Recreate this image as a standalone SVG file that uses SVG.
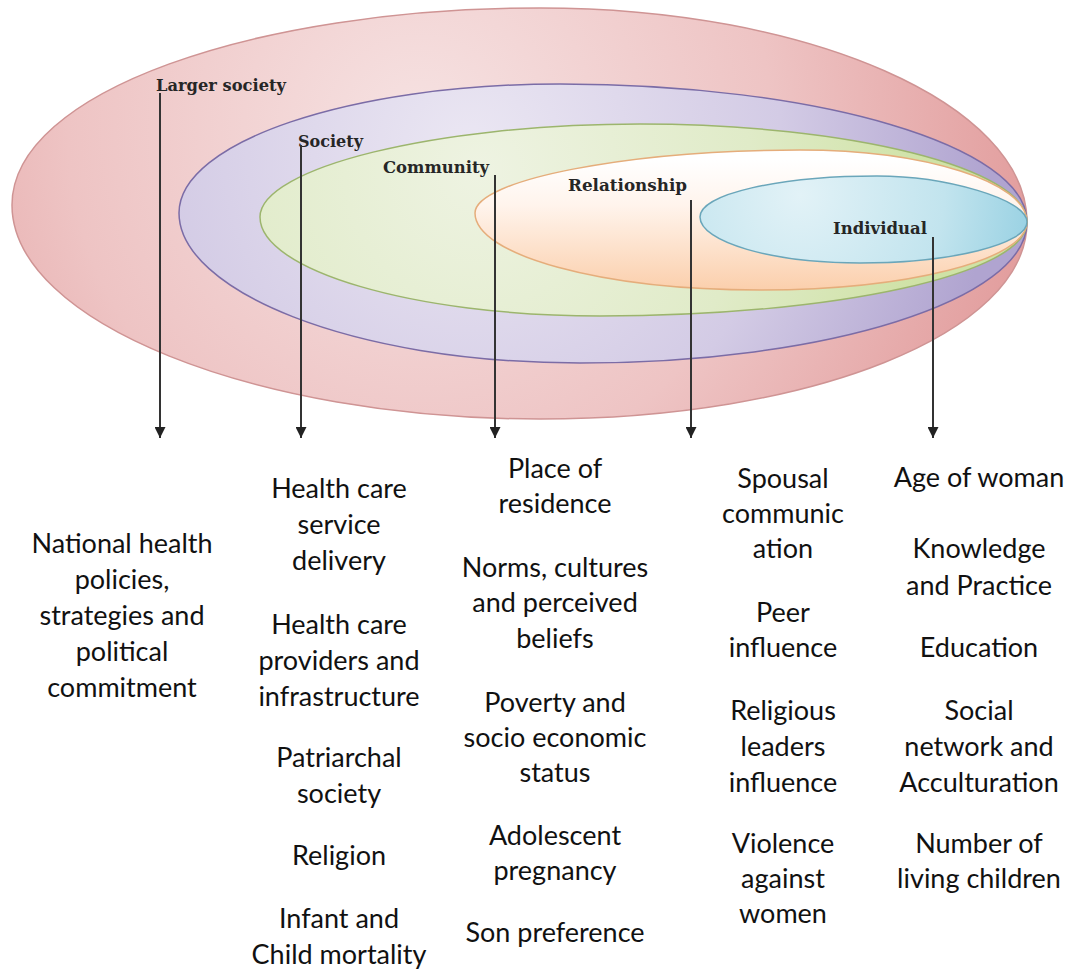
<svg xmlns="http://www.w3.org/2000/svg" width="1069" height="970" viewBox="0 0 1069 970">
  <style>
    .lvl { font-family: "DejaVu Serif", "Liberation Serif", serif; font-weight: bold; font-size: 16px; fill: #262626; }
    .fac { font-family: Lato, "Open Sans", "Liberation Sans", sans-serif; font-size: 27px; fill: #111111; text-anchor: middle; }
    .conn { stroke: #333333; stroke-width: 2; fill: none; marker-end: url(#head); }
  </style>
  <defs>
    <!-- downward arrowhead: drawn pointing along +x, rotated by the line direction -->
    <marker id="head" markerUnits="userSpaceOnUse" markerWidth="11" markerHeight="11" viewBox="0 0 11 11" refX="11" refY="5.5" orient="auto">
      <path d="M0,0 L11,5.5 L0,11 Z" fill="#222222"/>
    </marker>
    <radialGradient id="gRed" gradientUnits="userSpaceOnUse" cx="420" cy="130" r="640">
      <stop offset="0" stop-color="#f6e2e2"/>
      <stop offset="0.55" stop-color="#eec4c4"/>
      <stop offset="1" stop-color="#e19a9a"/>
    </radialGradient>
    <radialGradient id="gPurple" gradientUnits="userSpaceOnUse" cx="470" cy="150" r="520">
      <stop offset="0" stop-color="#ebe7f3"/>
      <stop offset="0.6" stop-color="#d3cbe5"/>
      <stop offset="1" stop-color="#b0a4d0"/>
    </radialGradient>
    <radialGradient id="gGreen" gradientUnits="userSpaceOnUse" cx="480" cy="170" r="450">
      <stop offset="0" stop-color="#eef3e2"/>
      <stop offset="0.6" stop-color="#e0ebc8"/>
      <stop offset="1" stop-color="#cfe2a6"/>
    </radialGradient>
    <linearGradient id="gOrange" gradientUnits="userSpaceOnUse" x1="0" y1="160" x2="0" y2="290">
      <stop offset="0" stop-color="#ffffff"/>
      <stop offset="0.35" stop-color="#fff4ec"/>
      <stop offset="1" stop-color="#fbcfac"/>
    </linearGradient>
    <radialGradient id="gBlue" gradientUnits="userSpaceOnUse" cx="800" cy="195" r="240">
      <stop offset="0" stop-color="#e2f2f7"/>
      <stop offset="0.6" stop-color="#c2e4ee"/>
      <stop offset="1" stop-color="#96d0e2"/>
    </radialGradient>
  </defs>

  <rect x="0" y="0" width="1069" height="970" fill="#ffffff"/>

  <!-- nested levels, all meeting at the right-hand tip (1027,222) -->
  <g id="larger-society">
    <path d="M1027,222 C1027,104 809,8 540,8 C254,8 12,92 12,205 C12,322 254,419 540,419 C809,419 1027,334 1027,222 Z"
          fill="url(#gRed)" stroke="#cf9494" stroke-width="1.5"/>
  </g>
  <g id="society">
    <path d="M1027,222 C1027,146 818,84 560,84 C350,84 179,142 179,213 C179,290 350,363 580,363 C827,363 1027,300 1027,222 Z"
          fill="url(#gPurple)" stroke="#7b6ca6" stroke-width="1.5"/>
  </g>
  <g id="community">
    <path d="M1027,222 C1027,168 849,124 640,124 C435,124 260,168 260,217 C260,270 413,316 600,316 C836,316 1027,274 1027,222 Z"
          fill="url(#gGreen)" stroke="#9cb56d" stroke-width="1.5"/>
  </g>
  <g id="relationship">
    <path d="M1027,222 C1027,182 925,150 800,150 C628,150 475,180 475,213 C475,255 601,290 760,290 C907,290 1027,260 1027,222 Z"
          fill="url(#gOrange)" stroke="#e5ad7b" stroke-width="1.5"/>
  </g>
  <g id="individual">
    <path d="M1027,222 C1027,199 945,176 877,176 C779,176 700,194 700,217 C700,242 772,263 860,263 C952,263 1027,244 1027,222 Z"
          fill="url(#gBlue)" stroke="#6aa6ba" stroke-width="1.5"/>
  </g>

  <!-- level names -->
  <g id="level-labels">
    <text class="lvl" x="156" y="91" textLength="130" lengthAdjust="spacingAndGlyphs">Larger society</text>
    <text class="lvl" x="298" y="147" textLength="65" lengthAdjust="spacingAndGlyphs">Society</text>
    <text class="lvl" x="383" y="173" textLength="106" lengthAdjust="spacingAndGlyphs">Community</text>
    <text class="lvl" x="568" y="191" textLength="119" lengthAdjust="spacingAndGlyphs">Relationship</text>
    <text class="lvl" x="833" y="234" textLength="94" lengthAdjust="spacingAndGlyphs">Individual</text>
  </g>

  <!-- connectors from each level down to its factor list -->
  <g id="connectors">
    <line class="conn" x1="160" y1="93" x2="160" y2="438"/>
    <line class="conn" x1="301" y1="145" x2="301" y2="438"/>
    <line class="conn" x1="495" y1="175" x2="495" y2="438"/>
    <line class="conn" x1="691" y1="200" x2="691" y2="438"/>
    <line class="conn" x1="933" y1="237" x2="933" y2="438"/>
  </g>

  <!-- factor lists -->
  <g id="factors-larger-society">
    <text class="fac" x="122" y="553">National health</text>
    <text class="fac" x="122" y="589">policies,</text>
    <text class="fac" x="122" y="625">strategies and</text>
    <text class="fac" x="122" y="661">political</text>
    <text class="fac" x="122" y="697">commitment</text>
  </g>
  <g id="factors-society">
    <text class="fac" x="339" y="498">Health care</text>
    <text class="fac" x="339" y="534">service</text>
    <text class="fac" x="339" y="570">delivery</text>
    <text class="fac" x="339" y="634">Health care</text>
    <text class="fac" x="339" y="670">providers and</text>
    <text class="fac" x="339" y="706">infrastructure</text>
    <text class="fac" x="339" y="767">Patriarchal</text>
    <text class="fac" x="339" y="803">society</text>
    <text class="fac" x="339" y="865">Religion</text>
    <text class="fac" x="339" y="928">Infant and</text>
    <text class="fac" x="339" y="964">Child mortality</text>
  </g>
  <g id="factors-community">
    <text class="fac" x="555" y="478">Place of</text>
    <text class="fac" x="555" y="513">residence</text>
    <text class="fac" x="555" y="577">Norms, cultures</text>
    <text class="fac" x="555" y="612">and perceived</text>
    <text class="fac" x="555" y="648">beliefs</text>
    <text class="fac" x="555" y="712">Poverty and</text>
    <text class="fac" x="555" y="747">socio economic</text>
    <text class="fac" x="555" y="782">status</text>
    <text class="fac" x="555" y="845">Adolescent</text>
    <text class="fac" x="555" y="880">pregnancy</text>
    <text class="fac" x="555" y="942">Son preference</text>
  </g>
  <g id="factors-relationship">
    <text class="fac" x="783" y="488">Spousal</text>
    <text class="fac" x="783" y="523">communic</text>
    <text class="fac" x="783" y="558">ation</text>
    <text class="fac" x="783" y="622">Peer</text>
    <text class="fac" x="783" y="657">influence</text>
    <text class="fac" x="783" y="720">Religious</text>
    <text class="fac" x="783" y="756">leaders</text>
    <text class="fac" x="783" y="792">influence</text>
    <text class="fac" x="783" y="853">Violence</text>
    <text class="fac" x="783" y="888">against</text>
    <text class="fac" x="783" y="923">women</text>
  </g>
  <g id="factors-individual">
    <text class="fac" x="979" y="487">Age of woman</text>
    <text class="fac" x="979" y="558">Knowledge</text>
    <text class="fac" x="979" y="595">and Practice</text>
    <text class="fac" x="979" y="657">Education</text>
    <text class="fac" x="979" y="720">Social</text>
    <text class="fac" x="979" y="756">network and</text>
    <text class="fac" x="979" y="792">Acculturation</text>
    <text class="fac" x="979" y="853">Number of</text>
    <text class="fac" x="979" y="888">living children</text>
  </g>
</svg>
